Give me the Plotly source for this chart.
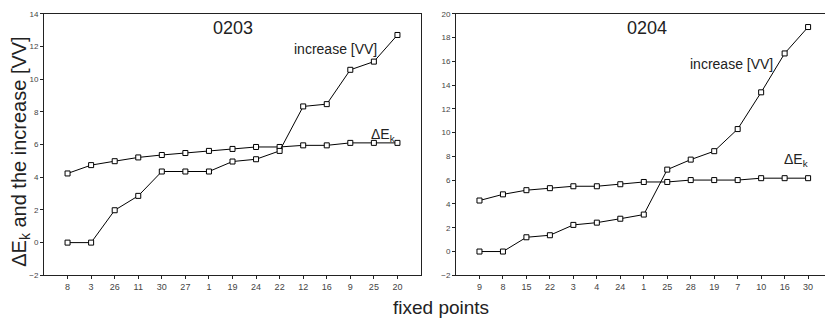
import plotly.graph_objects as go

# Panel 0203
cats_0203 = ["8", "3", "26", "11", "30", "27", "1", "19", "24", "22", "12", "16", "9", "25", "20"]
dek_0203 = [4.23, 4.74, 4.98, 5.21, 5.36, 5.48, 5.61, 5.73, 5.85, 5.85, 5.95, 5.95, 6.1, 6.1, 6.1]
inc_0203 = [0.0, 0.0, 1.98, 2.86, 4.35, 4.35, 4.35, 4.96, 5.1, 5.61, 8.33, 8.47, 10.57, 11.07, 12.7]

# Panel 0204
cats_0204 = ["9", "8", "15", "22", "3", "4", "24", "1", "25", "28", "19", "7", "10", "16", "30"]
dek_0204 = [4.29, 4.81, 5.16, 5.33, 5.49, 5.49, 5.66, 5.85, 5.85, 6.01, 6.01, 6.01, 6.17, 6.17, 6.17]
inc_0204 = [0.0, 0.0, 1.2, 1.37, 2.24, 2.43, 2.76, 3.11, 6.89, 7.73, 8.44, 10.3, 13.39, 16.66, 18.88]

FONT = "Liberation Sans, Arial, sans-serif"
line = dict(color="black", width=1)

fig = go.Figure()
for xs, ys, xa, ya in [
    (cats_0203, dek_0203, "x", "y"),
    (cats_0203, inc_0203, "x", "y"),
    (cats_0204, dek_0204, "x2", "y2"),
    (cats_0204, inc_0204, "x2", "y2"),
]:
    idx = list(range(len(xs)))
    fig.add_trace(go.Scatter(x=idx, y=ys, mode="lines+markers", xaxis=xa, yaxis=ya,
                             line=line, marker=dict(symbol="square", size=5, color="white",
                                                    line=dict(width=1, color="black")),
                             showlegend=False, hoverinfo="skip"))

xtickfont = dict(family=FONT, size=9, color="#444")
ytickfont = dict(family=FONT, size=8, color="#444")
common_x = dict(showgrid=False, zeroline=False, showline=True, linecolor="#222", linewidth=1,
                ticks="outside", ticklen=3, tickcolor="#222", tickfont=xtickfont, mirror=True)
common_y = dict(showgrid=False, zeroline=False, showline=True, linecolor="#222", linewidth=1,
                ticks="outside", ticklen=3, tickcolor="#222", tickfont=ytickfont)

fig.update_layout(
    width=825, height=327,
    margin=dict(l=0, r=0, t=0, b=0),
    paper_bgcolor="white", plot_bgcolor="white",
    font=dict(family=FONT, color="#222"),
    xaxis=dict(domain=[44/825, 421/825], range=[-1, 15], tickmode="array",
               tickvals=list(range(len(cats_0203))), ticktext=cats_0203, anchor="y", **common_x),
    yaxis=dict(domain=[1-279/327, 1-10/327], range=[-2, 14], dtick=2, anchor="x", mirror=True, **common_y),
    xaxis2=dict(domain=[456/825, 1.0], range=[-1, 14.72], tickmode="array",
                tickvals=list(range(len(cats_0204))), ticktext=cats_0204, anchor="y2", **common_x),
    yaxis2=dict(domain=[1-279/327, 1-10/327], range=[-2, 20], dtick=2, anchor="x2", mirror=False, **common_y),
)

ann_font = dict(family=FONT, size=14, color="#222")
anns = [
    dict(x=233/825, y=1-25/327, text="0203", font=dict(family=FONT, size=18, color="#222")),
    dict(x=647/825, y=1-25/327, text="0204", font=dict(family=FONT, size=18, color="#222")),
    dict(x=335/825, y=1-46/327, text="increase [VV]", font=ann_font),
    dict(x=731/825, y=1-62/327, text="increase [VV]", font=ann_font),
    dict(x=383/825, y=1-135/327, text="ΔE<sub>k</sub>", font=ann_font),
    dict(x=796/825, y=1-160/327, text="ΔE<sub>k</sub>", font=ann_font),
    dict(x=441/825, y=1-312/327, text="fixed points", font=dict(family=FONT, size=19, color="#222")),
    dict(x=21/825, y=1-152/327, text="ΔE<sub>k</sub> and the increase [VV]", textangle=-90,
         font=dict(family=FONT, size=20, color="#222")),
]
for a in anns:
    fig.add_annotation(xref="paper", yref="paper", showarrow=False, xanchor="center", yanchor="middle", **a)

fig.write_html("out.html", config={"displayModeBar": False},
               post_script="document.body.style.margin='0';document.body.style.overflow='hidden';")
